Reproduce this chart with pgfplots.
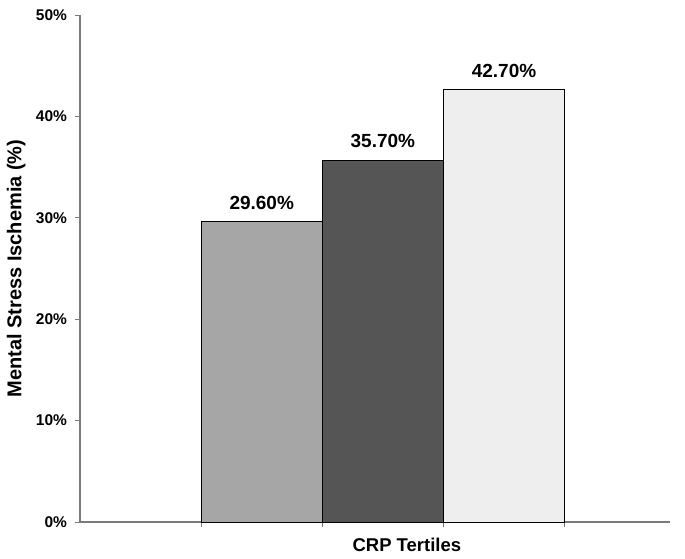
\documentclass[border=0pt]{standalone}
\usepackage{pgfplots}
\pgfplotsset{compat=1.18}
\usepackage{fontspec}
\setmainfont{Liberation Sans}
\definecolor{barA}{HTML}{A6A6A6}
\definecolor{barB}{HTML}{555555}
\definecolor{barC}{HTML}{EEEEEE}
\definecolor{axgray}{HTML}{7A7A7A}
\begin{document}
\begin{tikzpicture}
\begin{axis}[
  scale only axis,
  width=590pt, height=507pt,
  xmin=0, xmax=4.87,
  ymin=0, ymax=50,
  axis x line*=bottom, axis y line*=left,
  axis line style={draw=axgray, line width=1.2pt},
  every tick/.style={draw=axgray, line width=0.8pt},
  tick align=outside,
  major tick length=5pt,
  xtick={1,2,3,4}, xticklabels={},
  ytick={0,10,20,30,40,50},
  /pgf/number format/assume math mode=true,
  yticklabel={\pgfmathprintnumber{\tick}\%},
  tick label style={font=\fontsize{15.5}{18}\selectfont\bfseries},
  yticklabel style={xshift=-4.5pt},
  ylabel={Mental Stress Ischemia (\%)},
  xlabel={CRP Tertiles},
  ylabel style={font=\fontsize{20}{24}\selectfont\bfseries, at={(axis description cs:-0.108,0.5)}, anchor=center},
  xlabel style={font=\fontsize{18.5}{22}\selectfont\bfseries, at={(axis description cs:0.554,0)}, anchor=center, yshift=-23pt},
  nodes near coords={\pgfmathprintnumber[fixed,fixed zerofill,precision=2]{\pgfplotspointmeta}\%},
  every node near coord/.append style={font=\fontsize{19}{22}\selectfont\bfseries, text=black, yshift=8pt},
  clip=false,
]
\addplot[ybar, bar width=1, fill=barA, draw=black, line width=1pt] coordinates {(1.5,29.6)};
\addplot[ybar, bar width=1, fill=barB, draw=black, line width=1pt] coordinates {(2.5,35.7)};
\addplot[ybar, bar width=1, fill=barC, draw=black, line width=1pt] coordinates {(3.5,42.7)};
\coordinate (O) at (rel axis cs:0,0);
\end{axis}
\path (O) ++(-80pt,-36pt) rectangle ++(685pt,558pt);
\end{tikzpicture}
\end{document}
